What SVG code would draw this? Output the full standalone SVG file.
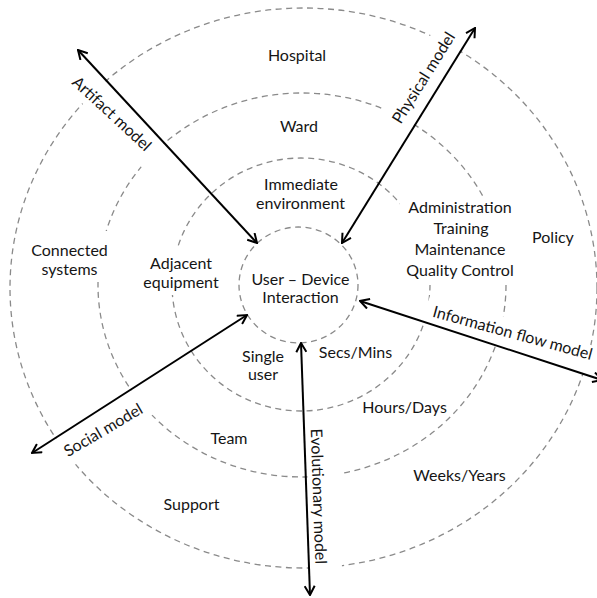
<svg xmlns="http://www.w3.org/2000/svg" width="597" height="598" viewBox="0 0 597 598">
<defs>
<style>
.ring{fill:none;stroke:#8a8a8a;stroke-width:1.3;stroke-dasharray:6 4.5}
.arr{fill:none;stroke:#000;stroke-width:2;marker-start:url(#ah);marker-end:url(#ah)}
.bg{fill:#fff;stroke:none}
text{font-family:Lato,"Open Sans","Liberation Sans",sans-serif;font-size:16px;fill:#151515;text-anchor:middle}
</style>
<marker id="ah" viewBox="0 0 12 12" refX="11" refY="6" markerWidth="12" markerHeight="12" markerUnits="userSpaceOnUse" orient="auto-start-reverse">
<path d="M2,1 L11,6 L2,11" fill="none" stroke="#000" stroke-width="2"/>
</marker>
</defs>
<rect width="597" height="598" fill="#fff"/>
<g id="rings">
<ellipse class="ring" cx="303.5" cy="288" rx="293.5" ry="280"/>
<ellipse class="ring" cx="302" cy="285" rx="204" ry="192"/>
<ellipse class="ring" cx="301" cy="284.5" rx="129" ry="126.5"/>
<ellipse class="ring" cx="298.5" cy="285" rx="59.5" ry="58"/>
</g>
<g id="label-backgrounds">
<polygon class="bg" points="87.5,61.7 167.7,148.2 144.2,169.9 64,83.4"/>
<polygon class="bg" points="408,134.5 467.4,38.5 439.3,21.1 379.9,117.1"/>
<polygon class="bg" points="422,320.3 597.8,377.8 606.8,350.3 431,292.7"/>
<polygon class="bg" points="51,442 137.7,386.3 155,413.3 68.3,468.9"/>
<polygon class="bg" points="306,418 340,418 342,572 310,572"/>
<rect class="bg" x="28" y="231" width="84" height="51"/>
<rect class="bg" x="140" y="246" width="82" height="49"/>
<rect class="bg" x="400" y="196" width="118" height="89"/>
</g>
<g id="connectors">
<line id="artifact" class="arr" x1="78" y1="50" x2="257" y2="243"/>
<line id="physical" class="arr" x1="342" y1="243" x2="475" y2="28"/>
<line id="infoflow" class="arr" x1="360" y1="301" x2="602" y2="380"/>
<line id="social" class="arr" x1="247" y1="315" x2="32" y2="453"/>
<line id="evolutionary" class="arr" x1="301" y1="343" x2="310" y2="595"/>
</g>
<g id="connector-labels">
<text transform="translate(108.1,117.7) rotate(42.8)">Artifact model</text>
<text transform="translate(428.2,80.7) rotate(-58)">Physical model</text>
<text transform="translate(511.2,338.3) rotate(15.3)">Information flow model</text>
<text transform="translate(106,434.8) rotate(-30.5)">Social model</text>
<text transform="translate(313,496.5) rotate(88)">Evolutionary model</text>
</g>
<g id="node-center"><text x="300.5" y="285">User – Device</text><text x="300.5" y="303">Interaction</text></g>
<g id="node-immediate"><text x="301" y="190">Immediate</text><text x="300.5" y="209">environment</text></g>
<g id="node-ward"><text x="299" y="132">Ward</text></g>
<g id="node-hospital"><text x="297" y="61">Hospital</text></g>
<g id="node-single"><text x="263" y="362">Single</text><text x="263" y="380">user</text></g>
<g id="node-secs"><text x="355.5" y="358">Secs/Mins</text></g>
<g id="node-adjacent"><text x="181" y="269">Adjacent</text><text x="181" y="287.5">equipment</text></g>
<g id="node-connected"><text x="69.5" y="256">Connected</text><text x="69.5" y="274.5">systems</text></g>
<g id="node-admin"><text x="460" y="213">Administration</text><text x="461" y="234">Training</text><text x="460" y="255">Maintenance</text><text x="460" y="276">Quality Control</text></g>
<g id="node-policy"><text x="553" y="243">Policy</text></g>
<g id="node-hours"><text x="404.5" y="413">Hours/Days</text></g>
<g id="node-weeks"><text x="459.5" y="481">Weeks/Years</text></g>
<g id="node-team"><text x="229" y="444">Team</text></g>
<g id="node-support"><text x="191.5" y="510">Support</text></g>
</svg>
